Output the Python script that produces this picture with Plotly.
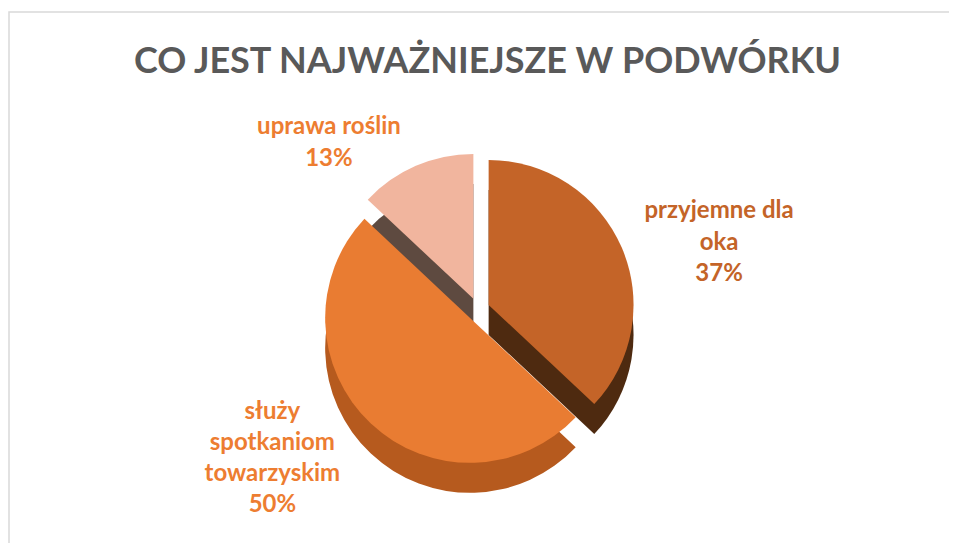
import plotly.graph_objects as go

# ---- data ----
categories = ["przyjemne dla oka", "służy spotkaniom towarzyskim", "uprawa roślin"]
display_labels = ["przyjemne dla<br>oka", "służy<br>spotkaniom<br>towarzyskim", "uprawa roślin"]
values = [37, 50, 13]
title_text = "CO JEST NAJWAŻNIEJSZE W PODWÓRKU"

# ---- styles ----
top_colors = ["#C46428", "#E97C32", "#F1B59E"]
side_colors = ["#4E2A10", "#B65A1E", "#5E4A40"]
label_colors = ["#C46428", "#ED7D31", "#ED7D31"]
pulls = [0.08, 0.08, 0.08]

W, H = 957, 543
top_px, bottom_px = 145, 488
depth_px = 30
cx = 470 / W
half_w = 0.35
dom_x = [cx - half_w, cx + half_w]
dom_y_top = [1 - (bottom_px - depth_px) / H, 1 - top_px / H]
dom_y_side = [dom_y_top[0] - depth_px / H, dom_y_top[1] - depth_px / H]

fig = go.Figure()

# side wall (depth) of the pseudo-3D pie
fig.add_trace(go.Pie(
    labels=categories, values=values, sort=False, direction="clockwise", rotation=0,
    pull=pulls, marker=dict(colors=side_colors, line=dict(width=0)),
    textinfo="none", hoverinfo="skip", showlegend=False, domain=dict(x=dom_x, y=dom_y_side),
))

# top face
fig.add_trace(go.Pie(
    labels=categories, values=values, sort=False, direction="clockwise", rotation=0,
    pull=pulls, marker=dict(colors=top_colors, line=dict(width=0)),
    text=display_labels, texttemplate="%{text}<br>%{percent:.0%}",
    textposition="outside", automargin=False,
    textfont=dict(family="Lato", size=24, color=label_colors, weight="bold"),
    showlegend=False, domain=dict(x=dom_x, y=dom_y_top),
))

fig.update_layout(
    width=W, height=H,
    margin=dict(l=0, r=0, t=0, b=0, autoexpand=False),
    paper_bgcolor="white", plot_bgcolor="white",
    title=dict(text="<b>" + title_text + "</b>", xref="container", x=479.5 / W, xanchor="center",
               yref="container", y=1 - 52 / H, yanchor="middle",
               font=dict(family="Lato", size=36, color="#595959")),
    shapes=[dict(type="rect", xref="paper", yref="paper", x0=1 / W, x1=1.02, y0=-0.02, y1=1 - 4 / H,
                 line=dict(color="#D9D9D9", width=1.5), fillcolor="rgba(0,0,0,0)", layer="below")],
)

fig.write_html("out.html")
